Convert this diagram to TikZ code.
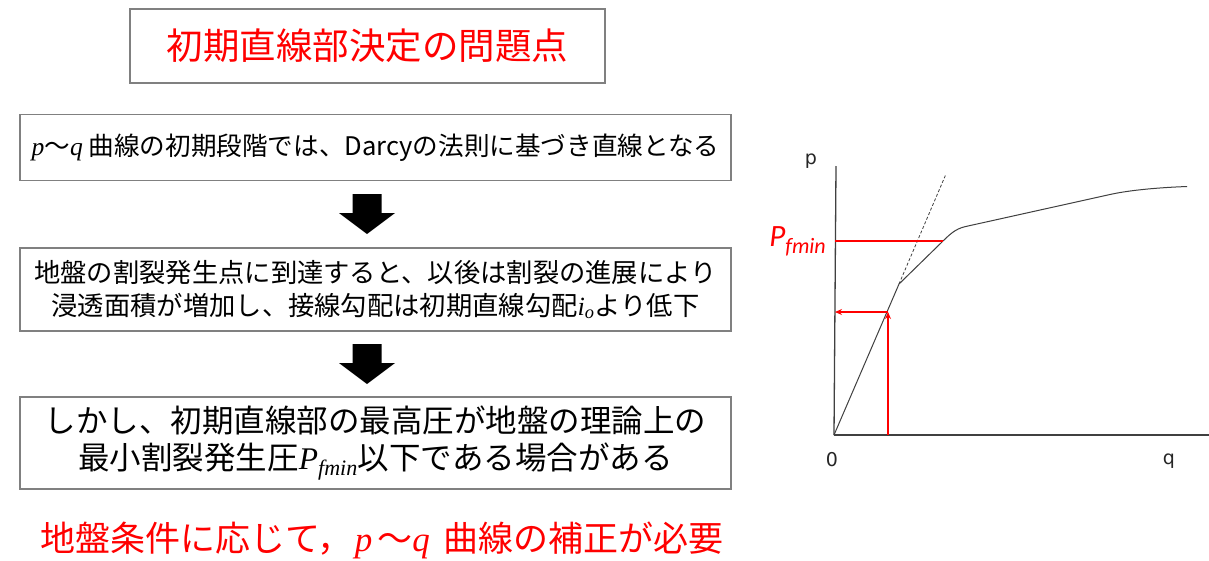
\documentclass[tikz,border=0pt]{standalone}
\usepackage{fontspec}
\setmainfont{Noto Sans CJK JP}
\newfontfamily\tms{Liberation Serif}
\newfontfamily\carl{Carlito}
\newfontfamily\dvs{DejaVu Sans}
\usetikzlibrary{arrows.meta,calc}
\definecolor{boxgray}{RGB}{128,128,128}
\definecolor{curvegray}{RGB}{64,64,64}
\definecolor{pred}{RGB}{255,0,0}
\newcommand{\myit}[1]{{\tms\itshape #1}}
\tikzset{
  flowbox/.style={draw=boxgray, line width=1.5pt, fill=white, inner sep=0pt, align=center},
  blockarrow/.style={fill=black},
  redline/.style={draw=pred, line width=1.1pt},
  axis/.style={draw=curvegray, line width=1.3pt},
  curve/.style={draw=curvegray, line width=1pt},
  axlabel/.style={inner sep=0pt, text=black!85}
}
\begin{document}
\begin{tikzpicture}[x=1pt,y=-1pt]
\useasboundingbox (0,0) rectangle (1209,560);
\fill[white] (0,0) rectangle (1209,560);

% title
\node[flowbox, minimum width=475pt, minimum height=74pt, text=pred,
  font=\fontsize{36.5}{40}\selectfont] (title) at (367.5,46) {初期直線部決定の問題点};

% box 1
\node[flowbox, minimum width=711pt, minimum height=66pt,
  font=\fontsize{25.6}{30}\selectfont] (b1) at (375.5,147.5)
  {\myit{p}〜\myit{q} 曲線の初期段階では、Darcyの法則に基づき直線となる};

% box 2
\node[flowbox, minimum width=711pt, minimum height=83pt,
  font=\fontsize{26.3}{33}\selectfont] (b2) at (375.5,289.5)
  {地盤の割裂発生点に到達すると、以後は割裂の進展により\\
   浸透面積が増加し、接線勾配は初期直線勾配\myit{i}\textsubscript{\myit{o}}より低下};

% box 3
\node[flowbox, minimum width=711pt, minimum height=92pt,
  font=\fontsize{31.5}{37}\selectfont] (b3) at (375.5,443)
  {しかし、初期直線部の最高圧が地盤の理論上の\\
   最小割裂発生圧\myit{P}\textsubscript{\myit{fmin}}以下である場合がある};

% conclusion
\node[inner sep=0pt, text=pred, font=\fontsize{35}{40}\selectfont, anchor=west] (concl) at (40,540)
  {地盤条件に応じて，\hspace{2pt}\myit{p}\hspace{5pt}〜\myit{q}\hspace{6pt} 曲線の補正が必要};

% block arrows
\foreach \t in {194,344}{
  \fill[blockarrow] (352.5,\t) -- (381.5,\t) -- (381.5,\t+19) -- (395,\t+19)
     -- (367,\t+40) -- (339,\t+19) -- (352.5,\t+19) -- cycle;
}

% graph
\coordinate (O) at (834,435);
\coordinate (ytop) at (836,166);
\coordinate (xend) at (1209,435);
\coordinate (K) at (899,284);
\coordinate (F) at (943,241);
\coordinate (Fy) at (835,241);
\coordinate (Q1) at (888,435);
\coordinate (P1) at (888,312);
\coordinate (P1y) at (835,312);
\coordinate (D) at (946,174);

\draw[axis] (O) -- (ytop);
\draw[axis] (O) -- (xend);
\draw[curve] (O) -- (K) -- (F) .. controls (953,231) and (958,228) .. (968,226)
  -- (1110,194.5) .. controls (1130,190) and (1160,187.5) .. (1187,186.5);
\draw[curvegray, line width=0.8pt, dash pattern=on 3pt off 2pt] (K) -- (D);

\draw[redline] (Fy) -- (F);
\draw[redline, -{Stealth[length=7pt,width=6pt]}] (Q1) -- (P1);
\draw[redline, -{Stealth[length=7pt,width=6pt]}] (P1) -- (P1y);

\node[axlabel] (plab) at (811,161) {\dvs\fontsize{19}{22}\selectfont p};
\node[axlabel] (zlab) at (832,460) {\dvs\fontsize{19}{22}\selectfont 0};
\node[axlabel] (qlab) at (1169,461) {\dvs\fontsize{19}{22}\selectfont q};
\node[inner sep=0pt, text=pred, anchor=east] (pf) at (826,241)
  {\carl\itshape\fontsize{31}{36}\selectfont P\raisebox{-7pt}{\fontsize{22}{26}\selectfont fmin}};
\end{tikzpicture}
\end{document}
